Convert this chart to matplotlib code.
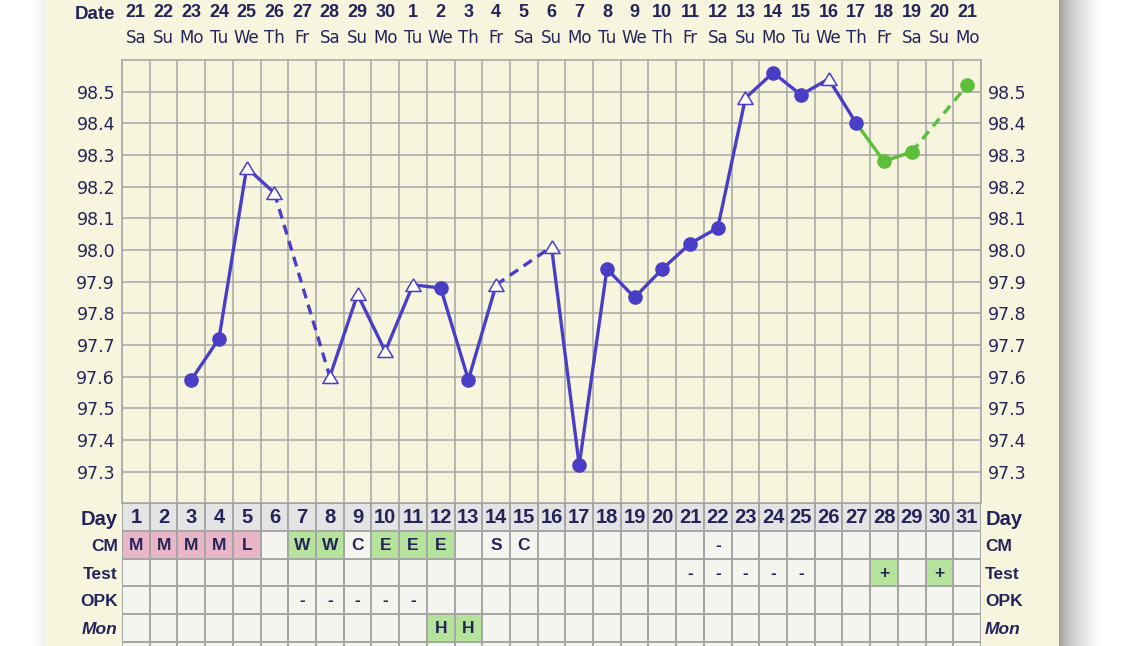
import numpy as np
import matplotlib
matplotlib.use("Agg")
import matplotlib.pyplot as plt
from matplotlib.colors import ListedColormap
from matplotlib.patches import Rectangle

plt.rcParams["font.family"] = ["DejaVu Sans"]

# --- data -----------------------------------------------------------------
cycle_days = list(range(1, 32))
dates = list(range(21, 31)) + list(range(1, 22))
weekdays = ["Sa", "Su", "Mo", "Tu", "We", "Th", "Fr"] * 4 + ["Sa", "Su", "Mo"]

temp_days = [3, 4, 5, 6, 8, 9, 10, 11, 12, 13, 14, 16, 17, 18, 19, 20,
             21, 22, 23, 24, 25, 26, 27, 28, 29, 31]
temps = [97.59, 97.72, 98.26, 98.18, 97.60, 97.86, 97.68, 97.89, 97.88,
         97.59, 97.89, 98.01, 97.32, 97.94, 97.85, 97.94, 98.02, 98.07,
         98.48, 98.56, 98.49, 98.54, 98.40, 98.28, 98.31, 98.52]
# 'o' regular reading, '^' flagged reading (open triangle)
temp_marks = ["o", "o", "^", "^", "^", "^", "^", "^", "o", "o", "^", "^",
              "o", "o", "o", "o", "o", "o", "^", "o", "o", "^", "o", "o",
              "o", "o"]
green_from = 28  # readings from this day on are drawn green

cm = ["M", "M", "M", "M", "L", "", "W", "W", "C", "E", "E", "E", "", "S",
      "C"] + [""] * 6 + ["-"] + [""] * 9
test = [""] * 20 + ["-"] * 5 + ["", "", "+", "", "+", ""]
opk = [""] * 6 + ["-"] * 5 + [""] * 20
mon = [""] * 11 + ["H", "H"] + [""] * 18
row_names = ["Day", "CM", "Test", "OPK", "Mon"]

# --- style ----------------------------------------------------------------
CREAM = "#f7f5de"
NAVY = "#25245a"
PURPLE = "#4a3ec6"
GREEN = "#5bbf3a"
GRID = "#a6a6a6"
CELL = "#f5f5f0"
DAYCELL = "#e4e4e4"
PINK = "#e8b6c6"
LGREEN = "#b5e39c"
BOLD = dict(family="Liberation Sans", weight="bold", color=NAVY)

W, H = 1125, 646
fig = plt.figure(figsize=(W / 100, H / 100), dpi=100, facecolor="white")

# cream panel + drop shadow
fig.patches.append(Rectangle((45 / W, 0), (1059 - 45) / W, 1,
                             transform=fig.transFigure, color=CREAM, zorder=-5))
sh = fig.add_axes([1059 / W, 0, 42 / W, 1])
g = np.linspace(0, 1, 60) ** 0.6
sh.imshow((0.6 + 0.4 * g)[None, :], cmap="gray", vmin=0, vmax=1, aspect="auto")
sh.axis("off")
shl = fig.add_axes([33 / W, 0, 12 / W, 1])
shl.imshow(np.linspace(1, 0.94, 20)[None, :], cmap="gray", vmin=0, vmax=1,
           aspect="auto")
shl.axis("off")

# --- temperature chart ----------------------------------------------------
ax = fig.add_axes([122 / W, (H - 503.3) / H, (981 - 122) / W, (503.3 - 60) / H])
ax.set_facecolor(CREAM)
ax.set_xlim(0.5, 31.5)
ax.set_ylim(97.2, 98.6)
ax.set_xticks(cycle_days)
ax.set_xticks(np.arange(0.5, 32, 1), minor=True)
ax.set_yticks(np.round(np.arange(97.3, 98.55, 0.1), 1))
ax.set_yticklabels([f"{v:.1f}" for v in ax.get_yticks()])
ax.tick_params(axis="x", which="both", length=0, labelbottom=False)
ax.tick_params(axis="y", length=0, labelleft=True, labelright=True,
               labelsize=12.5, labelcolor=NAVY, pad=5)
ax.grid(True, which="minor", axis="x", color=GRID, lw=1.1)
ax.grid(True, which="major", axis="y", color=GRID, lw=1.1)
for s in ax.spines.values():
    s.set_color(GRID)
    s.set_linewidth(1.1)

for (d1, t1, d2, t2) in zip(temp_days[:-1], temps[:-1], temp_days[1:], temps[1:]):
    col = GREEN if d2 >= green_from else PURPLE
    ls = "-" if d2 - d1 == 1 else (0, (3, 2))
    ax.plot([d1, d2], [t1, t2], color=col, lw=2.4, ls=ls, zorder=3,
            solid_capstyle="round")

tri = [(0, 1), (-1.15, -0.9), (1.15, -0.9), (0, 1)]
for d, t, m in zip(temp_days, temps, temp_marks):
    col = GREEN if d >= green_from else PURPLE
    if m == "o":
        ax.plot(d, t, "o", ms=9.5, color=col, zorder=4)
    else:
        ax.plot(d, t, marker=tri, ms=11, mfc="white", mec=col, mew=1.1,
                ls="none", zorder=4)

# date header
for d, dt, wd in zip(cycle_days, dates, weekdays):
    ax.annotate(str(dt), xy=(d, 1), xycoords=("data", "axes fraction"),
                xytext=(0, 34), textcoords="offset points", ha="center",
                va="center", fontsize=13, **BOLD)
    ax.annotate(wd, xy=(d, 1), xycoords=("data", "axes fraction"),
                xytext=(0, 15.5), textcoords="offset points", ha="center",
                va="center", fontsize=12, color=NAVY)
ax.annotate("Date", xy=(0, 1), xycoords="axes fraction", xytext=(-5, 32.5),
            textcoords="offset points", ha="right", va="center",
            fontsize=13.5, **BOLD)

# --- data table -----------------------------------------------------------
tb = fig.add_axes([122 / W, (H - 669.4) / H, (981 - 122) / W, 166.1 / H])
rows = [[str(d) for d in cycle_days], cm, test, opk, mon, [""] * 31]
code_of = {"M": 2, "L": 2, "W": 3, "E": 3, "+": 3, "H": 3}
codes = np.array([[1] * 31] + [[code_of.get(v, 0) for v in r] for r in rows[1:]])
tb.pcolormesh(np.arange(0.5, 32, 1), np.arange(0, 7), codes,
              cmap=ListedColormap([CELL, DAYCELL, PINK, LGREEN]), vmin=0, vmax=3,
              edgecolors=GRID, linewidth=1.1)
tb.set_xlim(0.5, 31.5)
tb.set_ylim(6, 0)
for r, vals in enumerate(rows):
    for d, v in zip(cycle_days, vals):
        if v:
            tb.text(d, r + 0.52, v, ha="center", va="center",
                    fontsize=14.5 if r == 0 else 12.5, **BOLD)
tb.set_xticks([])
tb.set_yticks(np.arange(len(row_names)) + 0.5)
tb.set_yticklabels(row_names)
tb.tick_params(axis="y", length=0, labelleft=True, labelright=True, pad=3)
for t in tb.yaxis.get_major_ticks():
    for lab in (t.label1, t.label2):
        txt = lab.get_text()
        lab.set_family("Liberation Sans")
        lab.set_weight("bold")
        lab.set_color(NAVY)
        lab.set_fontsize(14.5 if txt == "Day" else 12.5)
        if txt == "Mon":
            lab.set_style("italic")
for s in tb.spines.values():
    s.set_visible(False)

fig.savefig("out.png", dpi=100, facecolor="white")
